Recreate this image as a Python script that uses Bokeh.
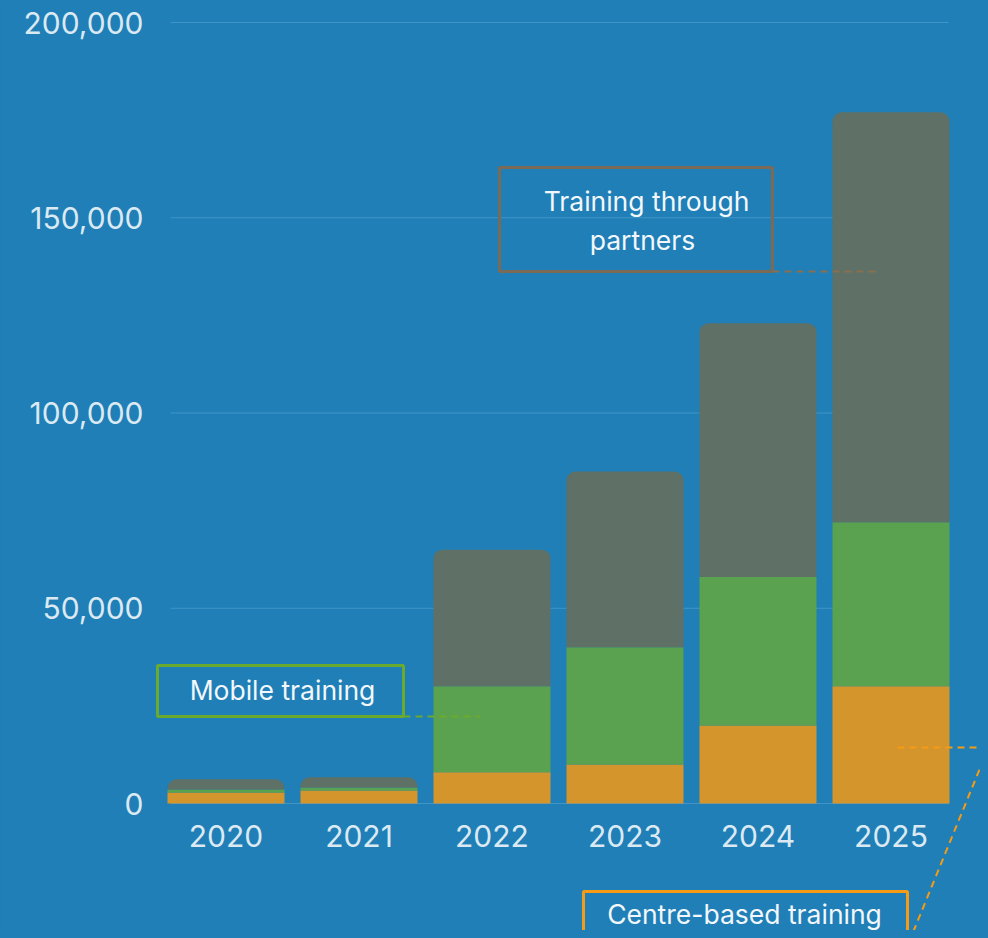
from bokeh.plotting import figure
from bokeh.models import (ColumnDataSource, Range1d, FixedTicker, NumeralTickFormatter,
                          LinearAxis, BoxAnnotation, Label, Arrow)
from bokeh.embed import file_html
from bokeh.resources import INLINE
import numpy as np

# ---- data ----
years = [2020, 2021, 2022, 2023, 2024, 2025]
centre_based = [2800, 3300, 8000, 10000, 20000, 30000]
mobile = [800, 800, 22000, 30000, 38000, 42000]
partners = [2600, 2600, 35000, 45000, 65000, 105000]
y_ticks = [0, 50000, 100000, 150000, 200000]

# ---- style ----
BG = "#1f7fb6"
GRID = "#4295c8"
C_ORANGE = "#d4952c"
C_GREEN = "#5aa24f"
C_GRAY = "#5f7066"
TXT = "#dbe9f3"
FONT = "Inter"

W, H = 980, 930
PX_PER_YEAR = 133.0
x_start = years[0] - 225.5 / PX_PER_YEAR
x_end = x_start + W / PX_PER_YEAR
Y_PX = 781.0 / 200000.0
BASE = 803.0
y_end = BASE / Y_PX
y_start = -(H - BASE) / Y_PX


def X(px):
    return x_start + px / PX_PER_YEAR


def Y(py):
    return (BASE - py) / Y_PX


c = np.array(centre_based, dtype=float)
m = np.array(mobile, dtype=float)
pt = np.array(partners, dtype=float)
src = ColumnDataSource(dict(
    x=years,
    b0=np.zeros(len(years)), t0=c,
    b1=c, t1=c + m,
    b2=c + m, t2=c + m + pt,
))

p = figure(width=W, height=H, output_backend="svg", toolbar_location=None,
           x_range=Range1d(x_start, x_end), y_range=Range1d(y_start, y_end),
           x_axis_location=None, y_axis_location=None, min_border=0)
p.background_fill_color = BG
p.border_fill_color = BG
p.outline_line_color = None
p.xgrid.visible = False
p.ygrid.visible = False

# grid lines
p.segment(x0=X(170), x1=X(948), y0=y_ticks, y1=y_ticks, line_color=GRID, line_width=1.2)

BW = 117 / PX_PER_YEAR
p.vbar(x="x", bottom="b0", top="t0", width=BW, source=src, fill_color=C_ORANGE, line_color=None)
p.vbar(x="x", bottom="b1", top="t1", width=BW, source=src, fill_color=C_GREEN, line_color=None)
p.vbar(x="x", bottom="b2", top="t2", width=BW, source=src, fill_color=C_GRAY, line_color=None,
       border_radius=(9, 9, 0, 0))

# axes
yax = LinearAxis(fixed_location=X(153), ticker=FixedTicker(ticks=y_ticks),
                 formatter=NumeralTickFormatter(format="0,0"))
yax.axis_line_color = None
yax.major_tick_line_color = None
yax.minor_tick_line_color = None
yax.major_tick_out = 0
yax.major_tick_in = 0
yax.major_label_standoff = 10
yax.major_label_text_font = FONT
yax.major_label_text_font_size = "30px"
yax.major_label_text_color = TXT
p.add_layout(yax, "left")

xax = LinearAxis(fixed_location=0, ticker=FixedTicker(ticks=years))
xax.axis_line_color = None
xax.major_tick_line_color = None
xax.minor_tick_line_color = None
xax.major_tick_out = 0
xax.major_tick_in = 0
xax.major_label_standoff = 21
xax.major_label_text_font = FONT
xax.major_label_text_font_size = "30px"
xax.major_label_text_color = TXT
p.add_layout(xax, "below")

# annotation boxes
def box(l, r, t, b, color):
    p.add_layout(BoxAnnotation(left=X(l), right=X(r), top=Y(t), bottom=Y(b),
                               fill_alpha=0, line_color=color, line_width=3, line_alpha=1))


def lab(xp, yp, text):
    p.add_layout(Label(x=X(xp), y=Y(yp), text=text, text_align="center", text_baseline="middle",
                       text_font=FONT, text_font_size="26.5px", text_color="#f2f7fb"))


def lead(x0, y0, x1, y1, color):
    p.add_layout(Arrow(x_start=X(x0), y_start=Y(y0), x_end=X(x1), y_end=Y(y1), end=None, start=None,
                       line_color=color, line_width=2, line_dash="7 5"))


box(499, 772, 167, 271, "#7b6a56")
lab(646, 200, "Training through")
lab(642, 239, "partners")
lead(772, 271, 880, 271, "#8a6f50")

box(157, 403, 665, 716, "#6aaa2c")
lab(282, 689, "Mobile training")
lead(403, 716, 480, 716, "#6aaa2c")

box(583, 907, 891, 960, "#f59b16")
lab(744, 913, "Centre-based training")
lead(897, 747, 988, 747, "#f59b16")
lead(988, 747, 910, 938, "#f59b16")

html = file_html(p, INLINE, title="Training")
html = html.replace("</head>", "<style>html,body{background:%s;}</style></head>" % BG, 1)
open("out.html", "w").write(html)
